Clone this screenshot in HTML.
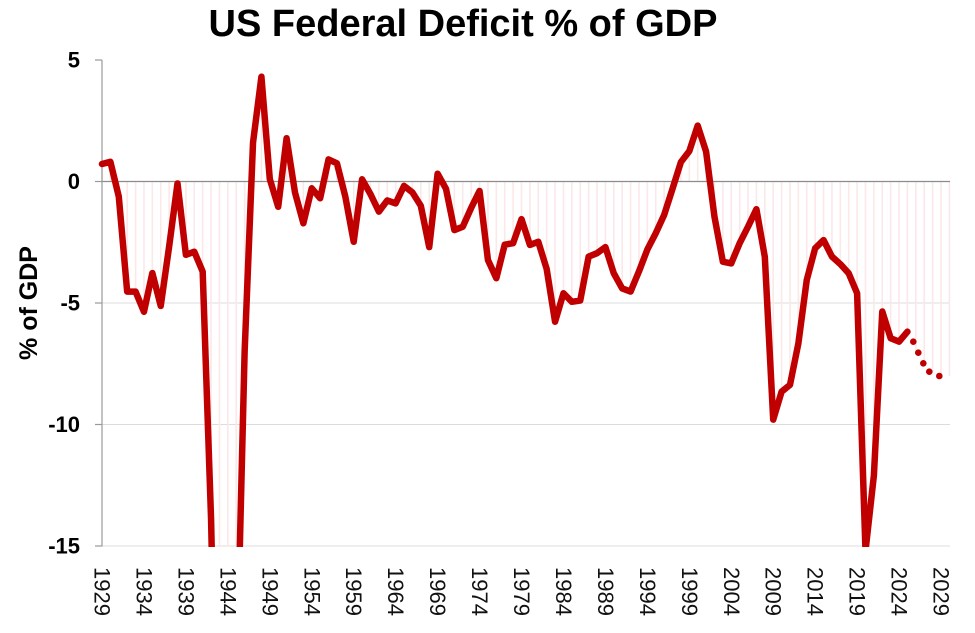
<!DOCTYPE html>
<html>
<head>
<meta charset="utf-8">
<style>
  html,body{margin:0;padding:0;background:#fff;width:975px;height:633px;overflow:hidden;}
  svg{display:block;}
  text{font-family:"Liberation Sans", Arial, sans-serif;}
</style>
</head>
<body>
<svg width="975" height="633" viewBox="0 0 975 633" xmlns="http://www.w3.org/2000/svg">
  <rect width="975" height="633" fill="#fff"/>
  <defs>
    <clipPath id="plot">
      <rect x="90" y="40" width="880" height="507"/>
    </clipPath>
  </defs>

  <!-- Title -->
  <text x="463" y="36" text-anchor="middle" font-size="38" font-weight="bold" fill="#000">US Federal Deficit % of GDP</text>

  <!-- Y axis title -->
  <text transform="translate(29,303) rotate(-90)" text-anchor="middle" dominant-baseline="central" font-size="25" font-weight="bold" fill="#000">% of GDP</text>

  <!-- gridlines -->
  <line x1="102" y1="303" x2="950" y2="303" stroke="#dcdcdc" stroke-width="1"/>
  <line x1="102" y1="424.5" x2="950" y2="424.5" stroke="#dcdcdc" stroke-width="1"/>
  <line x1="102" y1="546" x2="950" y2="546" stroke="#dcdcdc" stroke-width="1"/>

  <!-- drop lines -->
  <g clip-path="url(#plot)">
    <g transform="matrix(8.39 0 0 -24.3 102 181.5)">
      <path fill="none" stroke="#fbe8e8" stroke-width="1.6" vector-effect="non-scaling-stroke"
        d="M0 0V0.72M1 0V0.81M2 0V-0.62M3 0V-4.53M4 0V-4.53M5 0V-5.36M6 0V-3.77M7 0V-5.12M8 0V-2.68M9 0V-0.08M10 0V-3.02M11 0V-2.89M12 0V-3.71M13 0V-13.9M14 0V-15.1M15 0V-15.1M16 0V-15.1M17 0V-7M18 0V1.6M19 0V4.31M20 0V0.1M21 0V-1.04M22 0V1.78M23 0V-0.45M24 0V-1.72M25 0V-0.28M26 0V-0.69M27 0V0.91M28 0V0.75M29 0V-0.62M30 0V-2.48M31 0V0.09M32 0V-0.52M33 0V-1.24M34 0V-0.78M35 0V-0.9M36 0V-0.18M37 0V-0.45M38 0V-1M39 0V-2.7M40 0V0.32M41 0V-0.3M42 0V-2M43 0V-1.86M44 0V-1.09M45 0V-0.39M46 0V-3.23M47 0V-3.98M48 0V-2.6M49 0V-2.54M50 0V-1.55M51 0V-2.61M52 0V-2.48M53 0V-3.6M54 0V-5.77M55 0V-4.6M56 0V-4.95M57 0V-4.9M58 0V-3.09M59 0V-2.95M60 0V-2.7M61 0V-3.78M62 0V-4.4M63 0V-4.53M64 0V-3.7M65 0V-2.8M66 0V-2.13M67 0V-1.38M68 0V-0.3M69 0V0.8M70 0V1.25M71 0V2.3M72 0V1.23M73 0V-1.45M74 0V-3.3M75 0V-3.37M76 0V-2.54M77 0V-1.86M78 0V-1.14M79 0V-3.1M80 0V-9.8M81 0V-8.65M82 0V-8.37M83 0V-6.66M84 0V-4.05M85 0V-2.75M86 0V-2.41M87 0V-3.09M88 0V-3.4M89 0V-3.78M90 0V-4.6M91 0V-15.1M92 0V-12.1M93 0V-5.35M94 0V-6.45M95 0V-6.59M96 0V-6.18M97 0V-7M98 0V-7.5M99 0V-7.85M100 0V-8M101 0V-8"/>
    </g>
  </g>

  <!-- zero line -->
  <line x1="102" y1="181.5" x2="950" y2="181.5" stroke="#8c8c8c" stroke-width="1.2"/>

  <!-- y axis and ticks -->
  <line x1="102" y1="60" x2="102" y2="546.5" stroke="#9a9a9a" stroke-width="1.2"/>
  <g stroke="#9a9a9a" stroke-width="1.2">
    <line x1="95" y1="60" x2="102" y2="60"/>
    <line x1="95" y1="181.5" x2="102" y2="181.5"/>
    <line x1="95" y1="303" x2="102" y2="303"/>
    <line x1="95" y1="424.5" x2="102" y2="424.5"/>
    <line x1="95" y1="546" x2="102" y2="546"/>
  </g>

  <!-- y labels -->
  <g font-size="22" font-weight="bold" fill="#000" text-anchor="end" dominant-baseline="central">
    <text x="80" y="60">5</text>
    <text x="80" y="181.5">0</text>
    <text x="80" y="303">-5</text>
    <text x="80" y="424.5">-10</text>
    <text x="80" y="546">-15</text>
  </g>

  <!-- main series -->
  <g clip-path="url(#plot)">
    <g transform="matrix(8.39 0 0 -24.3 102 181.5)">
      <polyline fill="none" stroke="#c00000" stroke-width="6.5" stroke-linejoin="round" stroke-linecap="round" vector-effect="non-scaling-stroke"
        points="0,0.72 1,0.81 2,-0.62 3,-4.53 4,-4.53 5,-5.36 6,-3.77 7,-5.12 8,-2.68 9,-0.08 10,-3.02 11,-2.89 12,-3.71 13,-13.9 13.102,-15.5 16.393,-15.5 17,-7 18,1.6 19,4.31 20,0.1 21,-1.04 22,1.78 23,-0.45 24,-1.72 25,-0.28 26,-0.69 27,0.91 28,0.75 29,-0.62 30,-2.48 31,0.09 32,-0.52 33,-1.24 34,-0.78 35,-0.9 36,-0.18 37,-0.45 38,-1 39,-2.7 40,0.32 41,-0.3 42,-2 43,-1.86 44,-1.09 45,-0.39 46,-3.23 47,-3.98 48,-2.6 49,-2.54 50,-1.55 51,-2.61 52,-2.48 53,-3.6 54,-5.77 55,-4.6 56,-4.95 57,-4.9 58,-3.09 59,-2.95 60,-2.7 61,-3.78 62,-4.4 63,-4.53 64,-3.7 65,-2.8 66,-2.13 67,-1.38 68,-0.3 69,0.8 70,1.25 71,2.3 72,1.23 73,-1.45 74,-3.3 75,-3.37 76,-2.54 77,-1.86 78,-1.14 79,-3.1 80,-9.8 81,-8.65 82,-8.37 83,-6.66 84,-4.05 85,-2.75 86,-2.41 87,-3.09 88,-3.4 89,-3.78 90,-4.6 91,-15.2 92,-12.1 93,-5.35 94,-6.45 95,-6.59 96,-6.18"/>
    </g>
  </g>

  <!-- projection dots -->
  <g fill="#c00000">
    <circle cx="913.3" cy="341.7" r="3.3"/>
    <circle cx="918.3" cy="352.7" r="3.3"/>
    <circle cx="923.3" cy="363.3" r="3.3"/>
    <circle cx="929.3" cy="371.7" r="3.3"/>
    <circle cx="939.3" cy="376" r="3.3"/>
  </g>

  <!-- x labels -->
  <g font-size="22" fill="#111" dominant-baseline="central">
    <text transform="translate(102,567) rotate(90)">1929</text>
    <text transform="translate(143.95,567) rotate(90)">1934</text>
    <text transform="translate(185.9,567) rotate(90)">1939</text>
    <text transform="translate(227.85,567) rotate(90)">1944</text>
    <text transform="translate(269.8,567) rotate(90)">1949</text>
    <text transform="translate(311.75,567) rotate(90)">1954</text>
    <text transform="translate(353.7,567) rotate(90)">1959</text>
    <text transform="translate(395.65,567) rotate(90)">1964</text>
    <text transform="translate(437.6,567) rotate(90)">1969</text>
    <text transform="translate(479.55,567) rotate(90)">1974</text>
    <text transform="translate(521.5,567) rotate(90)">1979</text>
    <text transform="translate(563.45,567) rotate(90)">1984</text>
    <text transform="translate(605.4,567) rotate(90)">1989</text>
    <text transform="translate(647.35,567) rotate(90)">1994</text>
    <text transform="translate(689.3,567) rotate(90)">1999</text>
    <text transform="translate(731.25,567) rotate(90)">2004</text>
    <text transform="translate(773.2,567) rotate(90)">2009</text>
    <text transform="translate(815.15,567) rotate(90)">2014</text>
    <text transform="translate(857.1,567) rotate(90)">2019</text>
    <text transform="translate(899.05,567) rotate(90)">2024</text>
    <text transform="translate(941,567) rotate(90)">2029</text>
  </g>
</svg>
</body>
</html>
